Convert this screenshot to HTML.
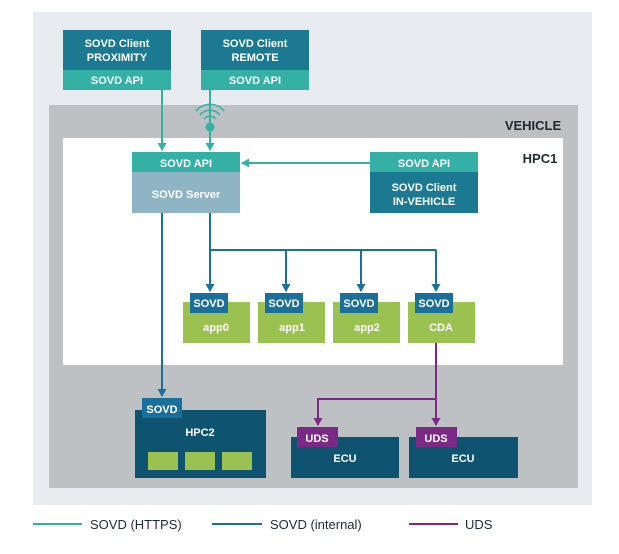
<!DOCTYPE html>
<html><head><meta charset="utf-8"><style>
body{margin:0;background:#fff}
svg text{font-family:"Liberation Sans",sans-serif;font-weight:bold;fill:#fff;text-anchor:middle}
</style></head><body>
<svg width="619" height="549" xmlns="http://www.w3.org/2000/svg">
<defs>
<marker id="at" markerWidth="9" markerHeight="9" refX="7" refY="4.5" orient="auto" markerUnits="userSpaceOnUse"><path d="M0,0L8,4.5L0,9z" fill="#35b0a4"/></marker>
<marker id="ab" markerWidth="9" markerHeight="9" refX="7" refY="4.5" orient="auto" markerUnits="userSpaceOnUse"><path d="M0,0L8,4.5L0,9z" fill="#1b6f9b"/></marker>
<marker id="ap" markerWidth="9" markerHeight="9" refX="7" refY="4.5" orient="auto" markerUnits="userSpaceOnUse"><path d="M0,0L8,4.5L0,9z" fill="#7a2a85"/></marker>
</defs>
<rect x="33" y="12" width="559" height="493" fill="#e8ebf0"/>
<rect x="49" y="105" width="529" height="383" fill="#bdc1c4"/>
<rect x="63" y="138" width="500" height="227" fill="#fff"/>
<text x="533" y="130" font-size="13" style="fill:#1f2a30">VEHICLE</text>
<text x="540" y="163" font-size="13" style="fill:#1f2a30">HPC1</text>

<rect x="63" y="30" width="108" height="40" fill="#1b7a92"/><rect x="63" y="70" width="108" height="20" fill="#35b0a4"/>
<text x="117" y="47" font-size="11">SOVD Client</text><text x="117" y="61" font-size="11">PROXIMITY</text><text x="117" y="84" font-size="11">SOVD API</text>
<rect x="201" y="30" width="108" height="40" fill="#1b7a92"/><rect x="201" y="70" width="108" height="20" fill="#35b0a4"/>
<text x="255" y="47" font-size="11">SOVD Client</text><text x="255" y="61" font-size="11">REMOTE</text><text x="255" y="84" font-size="11">SOVD API</text>

<line x1="162" y1="90" x2="162" y2="150" stroke="#35b0a4" stroke-width="2" marker-end="url(#at)"/>
<line x1="210" y1="90" x2="210" y2="150" stroke="#35b0a4" stroke-width="2" marker-end="url(#at)"/>
<circle cx="210" cy="127" r="4.5" fill="#35b0a4"/>
<path d="M204,119 A8,8 0 0 1 216,119 M200,115 A13,13 0 0 1 220,115 M196,111 A18,18 0 0 1 224,111" fill="none" stroke="#35b0a4" stroke-width="1.5"/>
<line x1="370" y1="163" x2="242" y2="163" stroke="#35b0a4" stroke-width="2" marker-end="url(#at)"/>

<rect x="132" y="152" width="108" height="20" fill="#35b0a4"/><rect x="132" y="172" width="108" height="41" fill="#8fb4c4"/>
<text x="186" y="167" font-size="11">SOVD API</text><text x="186" y="198" font-size="11">SOVD Server</text>
<rect x="370" y="152" width="108" height="20" fill="#35b0a4"/><rect x="370" y="172" width="108" height="41" fill="#1b7a92"/>
<text x="424" y="167" font-size="11">SOVD API</text><text x="424" y="191" font-size="11">SOVD Client</text><text x="424" y="205" font-size="11">IN-VEHICLE</text>

<g stroke="#1b6f9b" stroke-width="2" fill="none">
<line x1="162" y1="213" x2="162" y2="396" marker-end="url(#ab)"/>
<path d="M210,213V250H436"/>
<line x1="210" y1="250" x2="210" y2="291" marker-end="url(#ab)"/>
<line x1="286" y1="250" x2="286" y2="291" marker-end="url(#ab)"/>
<line x1="361" y1="250" x2="361" y2="291" marker-end="url(#ab)"/>
<line x1="436" y1="250" x2="436" y2="291" marker-end="url(#ab)"/>
</g>

<g font-size="11">
<rect x="183" y="302" width="67" height="41" fill="#9bc150"/><rect x="190" y="293" width="38" height="20" fill="#1b6f9b"/><text x="209" y="307">SOVD</text><text x="216" y="331">app0</text>
<rect x="258" y="302" width="67" height="41" fill="#9bc150"/><rect x="265" y="293" width="38" height="20" fill="#1b6f9b"/><text x="284" y="307">SOVD</text><text x="292" y="331">app1</text>
<rect x="333" y="302" width="67" height="41" fill="#9bc150"/><rect x="340" y="293" width="38" height="20" fill="#1b6f9b"/><text x="359" y="307">SOVD</text><text x="367" y="331">app2</text>
<rect x="408" y="302" width="67" height="41" fill="#9bc150"/><rect x="415" y="293" width="38" height="20" fill="#1b6f9b"/><text x="434" y="307">SOVD</text><text x="441" y="331">CDA</text>
</g>

<g stroke="#7a2a85" stroke-width="2" fill="none">
<line x1="436" y1="343" x2="436" y2="425" marker-end="url(#ap)"/>
<path d="M436,399H318V425" marker-end="url(#ap)"/>
</g>

<rect x="135" y="410" width="131" height="68" fill="#0e5470"/>
<rect x="142" y="398" width="40" height="20" fill="#1b6f9b"/><text x="162" y="413" font-size="11">SOVD</text>
<text x="200" y="436" font-size="11">HPC2</text>
<rect x="148" y="452" width="30" height="18" fill="#9bc150"/><rect x="185" y="452" width="30" height="18" fill="#9bc150"/><rect x="222" y="452" width="30" height="18" fill="#9bc150"/>

<rect x="291" y="437" width="108" height="41" fill="#0e5470"/><rect x="297" y="427" width="41" height="20" fill="#7a2a85"/>
<text x="317" y="442" font-size="11">UDS</text><text x="345" y="462" font-size="11">ECU</text>
<rect x="409" y="437" width="109" height="41" fill="#0e5470"/><rect x="416" y="427" width="41" height="20" fill="#7a2a85"/>
<text x="436" y="442" font-size="11">UDS</text><text x="463" y="462" font-size="11">ECU</text>

<line x1="33" y1="524" x2="82" y2="524" stroke="#35b0a4" stroke-width="2"/>
<line x1="212" y1="524" x2="262" y2="524" stroke="#1b6f9b" stroke-width="2"/>
<line x1="409" y1="524" x2="458" y2="524" stroke="#7a2a85" stroke-width="2"/>
<text x="90" y="529" font-size="13" style="fill:#1f2a30;font-weight:normal;text-anchor:start">SOVD (HTTPS)</text>
<text x="270" y="529" font-size="13" style="fill:#1f2a30;font-weight:normal;text-anchor:start">SOVD (internal)</text>
<text x="465" y="529" font-size="13" style="fill:#1f2a30;font-weight:normal;text-anchor:start">UDS</text>
</svg>
</body></html>
